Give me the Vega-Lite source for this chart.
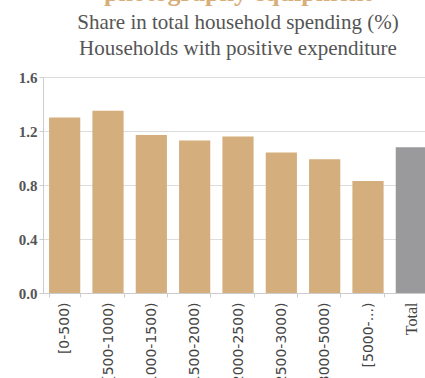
{
  "$schema": "https://vega.github.io/schema/vega-lite/v6.json",
  "autosize": "none",
  "width": 390,
  "height": 216,
  "padding": {"left": 43, "top": 77, "right": -8, "bottom": 85},
  "background": "white",
  "title": {
    "text": "photography equipment",
    "subtitle": ["Share in total household spending (%)", "Households with positive expenditure"],
    "anchor": "middle",
    "frame": "group",
    "font": "Liberation Serif",
    "fontSize": 26,
    "fontWeight": "bold",
    "color": "#D8AE78",
    "subtitleFont": "Liberation Serif",
    "subtitleFontSize": 21,
    "subtitleColor": "#555555",
    "subtitleLineHeight": 26,
    "subtitlePadding": 6,
    "offset": 11
  },
  "data": {
    "values": [
      {"group": "[0-500)", "share": 1.30},
      {"group": "[500-1000)", "share": 1.35},
      {"group": "[1000-1500)", "share": 1.17},
      {"group": "[1500-2000)", "share": 1.13},
      {"group": "[2000-2500)", "share": 1.16},
      {"group": "[2500-3000)", "share": 1.04},
      {"group": "[3000-5000)", "share": 0.99},
      {"group": "[5000-...)", "share": 0.83},
      {"group": "Total", "share": 1.08}
    ]
  },
  "mark": {"type": "bar"},
  "encoding": {
    "x": {
      "field": "group",
      "type": "nominal",
      "sort": null,
      "title": null,
      "scale": {"paddingInner": 0.28, "paddingOuter": 0.14},
      "axis": {
        "labelAngle": -90,
        "tickBand": "extent",
        "labelFont": {"condition": {"test": "datum.value == 'Total'", "value": "Liberation Serif"}, "value": "DejaVu Sans"},
        "labelFontSize": {"condition": {"test": "datum.value == 'Total'", "value": 16}, "value": 14},
        "labelColor": "#444444",
        "labelPadding": 5,
        "labelLimit": 200,
        "tickSize": 4,
        "tickColor": "#cccccc",
        "domainColor": "#cccccc",
        "grid": false
      }
    },
    "y": {
      "field": "share",
      "type": "quantitative",
      "title": null,
      "scale": {"domain": [0, 1.6]},
      "axis": {
        "values": [0, 0.4, 0.8, 1.2, 1.6],
        "format": ".1f",
        "labelFont": "Liberation Serif",
        "labelFontSize": 15,
        "labelFontWeight": "bold",
        "labelColor": "#555555",
        "labelPadding": 2,
        "tickSize": 4,
        "tickColor": "#cccccc",
        "domainColor": "#cccccc",
        "gridColor": "#dddddd"
      }
    },
    "color": {
      "condition": {"test": "datum.group == 'Total'", "value": "#9A9A9D"},
      "value": "#D4AE7D"
    }
  },
  "config": {"view": {"stroke": null}}
}
